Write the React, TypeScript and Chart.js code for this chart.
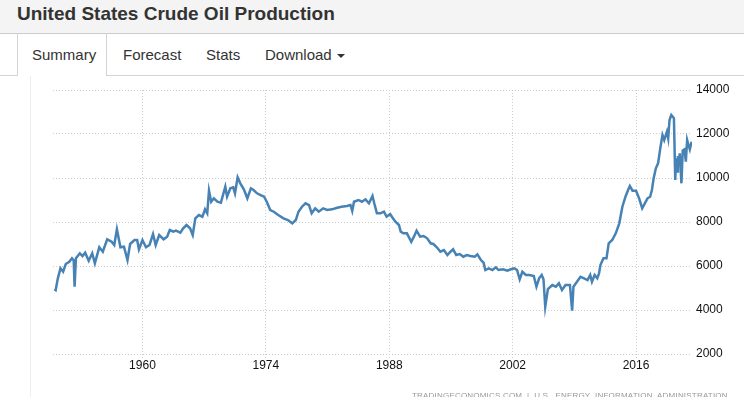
import React, { useEffect, useRef } from "react";
import { Chart, registerables } from "chart.js";

Chart.register(...registerables);

const TITLE = "United States Crude Oil Production";
const TABS = ["Summary", "Forecast", "Stats", "Download"];
const SOURCE = "TRADINGECONOMICS.COM  |  U.S.  ENERGY  INFORMATION  ADMINISTRATION";

const X_TICKS = [1960, 1974, 1988, 2002, 2016];
const Y_TICKS = [2000, 4000, 6000, 8000, 10000, 12000, 14000];

const YEARS = [
  1950.0, 1950.15, 1950.4, 1950.7, 1951.0, 1951.3, 1951.7, 1952.0, 1952.2, 1952.3,
  1952.45, 1952.9, 1953.2, 1953.5, 1953.9, 1954.3, 1954.6, 1955.1, 1955.5, 1956.0,
  1956.5, 1956.8, 1957.1, 1957.5, 1957.9, 1958.3, 1958.6, 1959.1, 1959.4, 1959.6,
  1960.0, 1960.4, 1960.8, 1961.2, 1961.5, 1961.9, 1962.4, 1962.8, 1963.1, 1963.5,
  1963.8, 1964.3, 1964.6, 1965.0, 1965.4, 1965.7, 1966.0, 1966.4, 1966.8, 1967.1,
  1967.35, 1967.55, 1967.8, 1968.1, 1968.5, 1968.9, 1969.4, 1969.6, 1969.97, 1970.3,
  1970.5, 1970.8, 1971.1, 1971.5, 1971.9, 1972.3, 1972.6, 1973.0, 1973.4, 1973.8,
  1974.1, 1974.5, 1974.9, 1975.4, 1976.0, 1976.5, 1977.0, 1977.4, 1977.7, 1978.1,
  1978.5, 1978.9, 1979.2, 1979.6, 1980.0, 1980.5, 1980.95, 1981.5, 1982.1, 1982.6,
  1983.2, 1983.6, 1983.8, 1984.0, 1984.5, 1984.9, 1985.3, 1985.7, 1986.1, 1986.3,
  1986.6, 1987.0, 1987.4, 1987.7, 1988.1, 1988.3, 1988.7, 1989.1, 1989.3, 1989.6,
  1990.0, 1990.5, 1990.8, 1991.1, 1991.5, 1991.9, 1992.3, 1992.7, 1993.0, 1993.4,
  1993.8, 1994.2, 1994.6, 1994.95, 1995.25, 1995.6, 1996.0, 1996.4, 1996.8, 1997.2,
  1997.7, 1998.0, 1998.4, 1998.7, 1998.9, 1999.3, 1999.7, 2000.1, 2000.4, 2000.9,
  2001.4, 2001.8, 2002.2, 2002.5, 2002.8, 2003.1, 2003.5, 2003.9, 2004.4, 2004.7,
  2005.0, 2005.3, 2005.5, 2005.7, 2006.0, 2006.5, 2006.9, 2007.25, 2007.6, 2008.0,
  2008.5, 2008.75, 2008.9, 2009.3, 2009.7, 2010.1, 2010.5, 2010.8, 2011.0, 2011.3,
  2011.6, 2011.8, 2011.96, 2012.3, 2012.65, 2012.9, 2013.3, 2013.7, 2014.1, 2014.45,
  2014.8, 2015.1, 2015.3, 2015.6, 2016.0, 2016.35, 2016.7, 2017.0, 2017.3, 2017.6,
  2017.8, 2018.0, 2018.25, 2018.5, 2018.75, 2019.0, 2019.2, 2019.5, 2019.65, 2019.8,
  2020.0, 2020.3, 2020.45, 2020.55, 2020.65, 2020.75, 2020.85, 2020.96, 2021.15, 2021.3,
  2021.5, 2021.65, 2021.8, 2021.95, 2022.1, 2022.3,
];

const PRODUCTION = [
  4940, 4900, 5440, 5895, 5741, 6090, 6195, 6350, 6250, 5060,
  6350, 6577, 6454, 6604, 6240, 6577, 6122, 6850, 6650, 7213,
  7104, 6955, 7667, 6850, 6877, 6270, 7000, 7180, 7180, 6758,
  7180, 6850, 6955, 7454, 6955, 7409, 7213, 7332, 7636, 7560,
  7605, 7514, 7700, 7863, 7713, 7410, 8167, 8318, 8240, 8576,
  8395, 9424, 8922, 9077, 8922, 8877, 9604, 9150, 9531, 9577,
  9304, 10031, 9758, 9486, 9077, 9531, 9454, 9304, 9227, 9150,
  8922, 8545, 8468, 8318, 8167, 8090, 7940, 8090, 8468, 8695,
  8850, 8772, 8395, 8622, 8468, 8622, 8545, 8576, 8650, 8695,
  8727, 8772, 8500, 8922, 9000, 8922, 9031, 8850, 9181, 8850,
  8400, 8395, 8468, 8240, 8363, 8240, 8013, 7863, 7560, 7486,
  7486, 7104, 7332, 7605, 7332, 7363, 7259, 7031, 7000, 6849,
  6650, 6727, 6500, 6650, 6758, 6500, 6545, 6423, 6500, 6454,
  6423, 6530, 6272, 6150, 5818, 5895, 5818, 5940, 5818, 5850,
  5786, 5850, 5895, 5818, 5395, 5740, 5590, 5590, 5545, 5060,
  5440, 5590, 5400, 4150, 4950, 5136, 5060, 5213, 4909, 5136,
  5136, 3968, 5060, 5286, 5513, 5440, 5363, 5590, 5286, 5590,
  5440, 5667, 6045, 6350, 6350, 7031, 7181, 7486, 7940, 8695,
  9150, 9454, 9636, 9424, 9424, 9077, 8622, 8850, 9077, 9150,
  9454, 9985, 10440, 10667, 11349, 11954, 11727, 12104, 11800, 12636,
  12863, 12713, 9910, 10900, 10300, 11000, 10600, 11122, 9758, 11250,
  11300, 10740, 11727, 11500, 11300, 11650,
];

const FONT = '"Liberation Sans", Arial, sans-serif';

function OilChart() {
  const ref = useRef<HTMLCanvasElement | null>(null);
  useEffect(() => {
    if (!ref.current) return;
    const points = YEARS.map((x, i) => ({ x, y: PRODUCTION[i] }));
    const chart = new Chart(ref.current, {
      type: "line",
      data: {
        datasets: [
          {
            data: points,
            borderColor: "#4682b4",
            borderWidth: 2.5,
            pointRadius: 0,
            tension: 0,
            fill: false,
          },
        ],
      },
      options: {
        responsive: false,
        animation: false,
        parsing: false as any,
        layout: { padding: { left: 53, top: 14, right: 0, bottom: 0 } },
        plugins: { legend: { display: false }, tooltip: { enabled: false } },
        scales: {
          x: {
            type: "linear",
            min: 1949.85,
            max: 2022.35,
            afterBuildTicks: (scale: any) => {
              scale.ticks = X_TICKS.map((v) => ({ value: v }));
            },
            afterFit: (scale: any) => {
              scale.height = 43;
            },
            grid: {
              color: "#cccccc",
              tickColor: "#cccccc",
              tickLength: 4,
              tickBorderDash: [1, 2],
            },
            border: { display: false, dash: [1, 2] },
            ticks: {
              autoSkip: false,
              maxRotation: 0,
              padding: 0,
              color: "#111",
              font: { family: FONT, size: 12 },
              callback: (v: any) => String(v),
            },
          },
          y: {
            position: "right",
            min: 2000,
            max: 14000,
            afterBuildTicks: (scale: any) => {
              scale.ticks = Y_TICKS.map((v) => ({ value: v }));
            },
            afterFit: (scale: any) => {
              scale.width = 52;
            },
            grid: { color: "#cccccc", drawTicks: false },
            border: { display: false, dash: [1, 2] },
            ticks: {
              padding: 4,
              color: "#111",
              font: { family: FONT, size: 12 },
              callback: (v: any) => String(v),
            },
          },
        },
      },
    });
    return () => chart.destroy();
  }, []);
  return (
    <canvas
      ref={ref}
      width={744}
      height={321}
      style={{ position: "absolute", left: 0, top: 76, width: 744, height: 321 }}
    />
  );
}

export default function App() {
  const tabLefts = [32, 123, 206, 265];
  return (
    <div
      style={{
        position: "absolute",
        left: 0,
        top: 0,
        width: 744,
        height: 397,
        overflow: "hidden",
        background: "#fff",
        fontFamily: FONT,
        color: "#333",
      }}
    >
      <div
        style={{
          position: "absolute",
          left: 0,
          top: 0,
          width: 744,
          height: 33,
          background: "#f4f4f4",
          borderBottom: "1px solid #ccc",
        }}
      />
      <div
        style={{
          position: "absolute",
          left: 17,
          top: 4,
          fontSize: 19,
          lineHeight: "19px",
          fontWeight: "bold",
          color: "#333",
          whiteSpace: "nowrap",
        }}
      >
        {TITLE}
      </div>
      <div style={{ position: "absolute", left: 0, top: 75, width: 744, height: 1, background: "#d4d4d4" }} />
      <div
        style={{
          position: "absolute",
          left: 17,
          top: 34,
          width: 88,
          height: 42,
          background: "#fff",
          borderLeft: "1px solid #d4d4d4",
          borderRight: "1px solid #d4d4d4",
        }}
      />
      {TABS.map((t, i) => (
        <div
          key={t}
          style={{
            position: "absolute",
            left: tabLefts[i],
            top: 47,
            fontSize: 15,
            lineHeight: "15px",
            color: "#333",
            whiteSpace: "nowrap",
          }}
        >
          {t}
        </div>
      ))}
      <div
        style={{
          position: "absolute",
          left: 337,
          top: 54,
          width: 0,
          height: 0,
          borderTop: "4px solid #333",
          borderLeft: "4px solid transparent",
          borderRight: "4px solid transparent",
        }}
      />
      <div style={{ position: "absolute", left: 30, top: 76, width: 1, height: 321, background: "#eeeeee" }} />
      <OilChart />
      <div
        style={{
          position: "absolute",
          left: 412,
          top: 392,
          fontSize: 8,
          lineHeight: "8px",
          letterSpacing: 0.2,
          color: "#999",
          whiteSpace: "pre",
        }}
      >
        {SOURCE}
      </div>
    </div>
  );
}
